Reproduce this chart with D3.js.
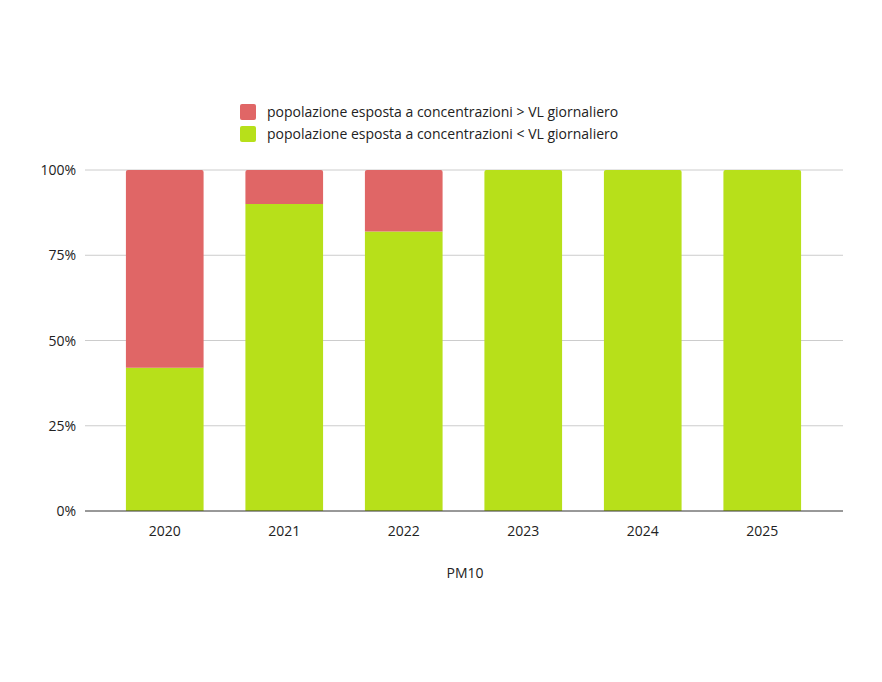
<!DOCTYPE html>
<html>
<head>
<meta charset="utf-8">
<script src="https://cdn.jsdelivr.net/npm/d3@7"></script>
<style>
  body { margin: 0; background: #fff; }
  text { font-family: "Open Sans", "Noto Sans", sans-serif; fill: #222; }
</style>
</head>
<body>
<svg id="chart" width="882" height="682"></svg>
<script>
// data
var years = ["2020", "2021", "2022", "2023", "2024", "2025"];
var below = [0.42, 0.90, 0.82, 1.00, 1.00, 1.00];   // < VL giornaliero
var above = [0.58, 0.10, 0.18, 0.00, 0.00, 0.00];   // > VL giornaliero
var ticks = [0, 0.25, 0.5, 0.75, 1];
var seriesNames = [
    "popolazione esposta a concentrazioni > VL giornaliero",
    "popolazione esposta a concentrazioni < VL giornaliero"
];
var colors = ["#e06666", "#b7e01a"];

var svg = d3.select("#chart");
var plotLeft = 85, plotRight = 843, plotTop = 170, plotBottom = 511;

var x = d3.scaleBand().domain(years).range([105, 822])
    .paddingInner(0.35).paddingOuter(0.175);
var y = d3.scaleLinear().domain([0, 1]).range([plotBottom, plotTop]);

// gridlines
svg.append("g").selectAll("line").data(ticks.filter(t => t > 0)).join("line")
    .attr("x1", plotLeft).attr("x2", plotRight)
    .attr("y1", d => y(d)).attr("y2", d => y(d))
    .attr("stroke", "#cccccc");

// y tick labels
svg.append("g").selectAll("text").data(ticks).join("text")
    .attr("x", 76).attr("y", d => y(d) + 5)
    .attr("text-anchor", "end").attr("font-size", 14)
    .text(d => Math.round(d * 100) + "%");

// green bars (bottom)
svg.append("g").selectAll("path").data(years).join("path")
    .attr("fill", colors[1])
    .attr("d", (d, i) => {
        var x0 = x(d), w = x.bandwidth(), y0 = y(below[i]), r = above[i] > 0 ? 0 : 2;
        return `M${x0},${plotBottom}V${y0 + r}Q${x0},${y0} ${x0 + r},${y0}H${x0 + w - r}Q${x0 + w},${y0} ${x0 + w},${y0 + r}V${plotBottom}Z`;
    });

// red bars (stacked on top)
svg.append("g").selectAll("path").data(years.filter((d, i) => above[i] > 0)).join("path")
    .attr("fill", colors[0])
    .attr("d", d => {
        var i = years.indexOf(d);
        var x0 = x(d), w = x.bandwidth(), yb = y(below[i]), yt = y(below[i] + above[i]), r = 2;
        return `M${x0},${yb}V${yt + r}Q${x0},${yt} ${x0 + r},${yt}H${x0 + w - r}Q${x0 + w},${yt} ${x0 + w},${yt + r}V${yb}Z`;
    });

// x axis baseline
svg.append("line").attr("x1", plotLeft).attr("x2", plotRight)
    .attr("y1", plotBottom).attr("y2", plotBottom).attr("stroke", "#333");

// x labels
svg.append("g").selectAll("text").data(years).join("text")
    .attr("x", d => x(d) + x.bandwidth() / 2).attr("y", 536)
    .attr("text-anchor", "middle").attr("font-size", 14)
    .text(d => d);

svg.append("text").attr("x", 465).attr("y", 578)
    .attr("text-anchor", "middle").attr("font-size", 14).text("PM10");

// legend
var lg = svg.append("g").selectAll("g").data(seriesNames).join("g")
    .attr("transform", (d, i) => `translate(240,${104 + i * 22})`);
lg.append("rect").attr("width", 16).attr("height", 16).attr("rx", 2)
    .attr("fill", (d, i) => colors[i]);
lg.append("text").attr("x", 27).attr("y", 13).attr("font-size", 14).text(d => d);
</script>
</body>
</html>
